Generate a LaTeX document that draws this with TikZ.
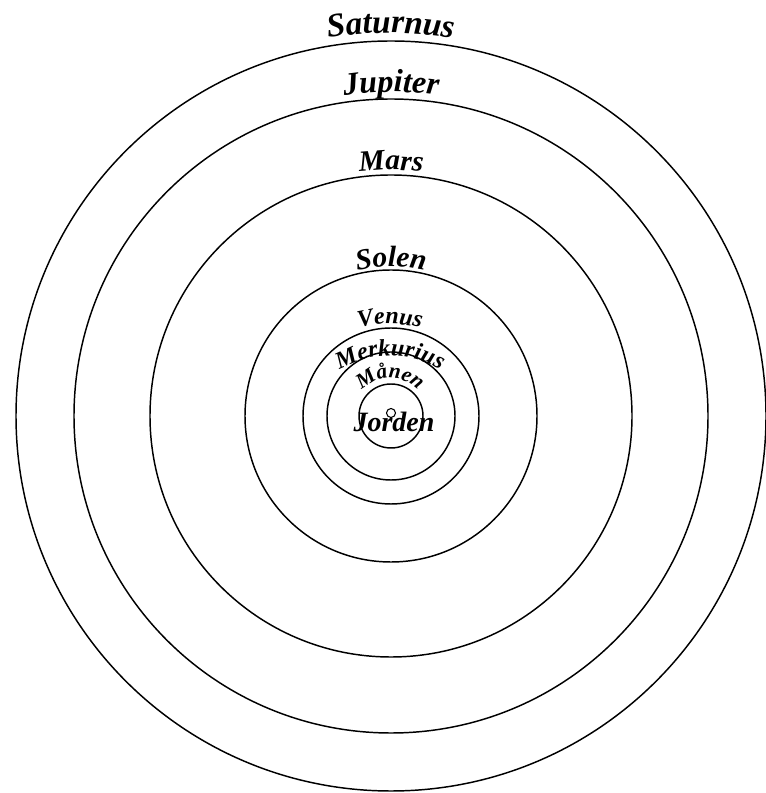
\documentclass[tikz,border=0pt]{standalone}
\usepackage{fontspec}
\setmainfont{Liberation Serif}
\usetikzlibrary{decorations.text}
\begin{document}
\begin{tikzpicture}[x=0.75pt,y=0.75pt,
  orbit/.style={line width=1.1pt},
  lbl/.style 2 args={decorate, decoration={text along path, text align=center,
     text={|\fontsize{#1}{#1}\selectfont\bfseries\itshape|#2}}}]
\useasboundingbox (0,0) rectangle (766,793);
\coordinate (c) at (391,377);
\foreach \r in {32,64,88,146,241,317,375} \draw[orbit] (c) circle[radius=\r];
% Earth
\draw[line width=0.8pt] (391,380) circle[radius=4.5];
\node[font=\fontsize{21}{21}\selectfont\bfseries\itshape, anchor=base, inner sep=0pt] (jorden) at (394,361) {Jorden};
% labels along arcs
\path[lbl={25}{Saturnus}] (391-383,377) arc[start angle=180,end angle=0,radius=383];
\path[lbl={24}{Jupiter}] (391-324,377) arc[start angle=180,end angle=0,radius=324];
\path[lbl={22}{Mars}] (391-246,377) arc[start angle=180,end angle=0,radius=246];
\path[lbl={22}{Solen}] (391-149,377) arc[start angle=180,end angle=0,radius=149];
\path[lbl={18}{Venus}] (390-120,349) arc[start angle=180,end angle=0,radius=120];
\path[lbl={18}{Merkurius}] (390-100,337) arc[start angle=180,end angle=0,radius=100];
\path[lbl={16}{Månen}] (390-38,377) arc[start angle=180,end angle=0,radius=38];
\end{tikzpicture}
\end{document}
